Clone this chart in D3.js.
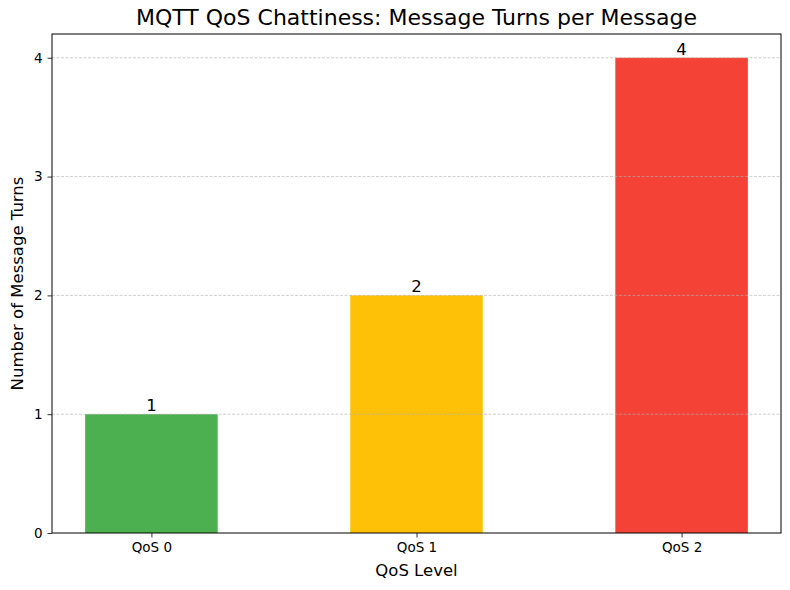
<!DOCTYPE html>
<html>
<head>
<meta charset="utf-8">
<script src="https://cdn.jsdelivr.net/npm/d3@7"></script>
<style>
  body { margin: 0; background: #fff; }
  text { font-family: "DejaVu Sans", sans-serif; }
</style>
</head>
<body>
<div id="chart"></div>
<script>
var categories = ["QoS 0", "QoS 1", "QoS 2"];
var turns = [1, 2, 4];
var barColors = ["#4CAF50", "#FFC107", "#F44336"];
var yTicks = [0, 1, 2, 3, 4];

var width = 790;
var height = 590;
var margin = { top: 34, right: 9, bottom: 57, left: 52 };
var innerW = width - margin.left - margin.right;
var innerH = height - margin.top - margin.bottom;

var svg = d3.select("#chart")
  .append("svg")
  .attr("width", width)
  .attr("height", height);

var g = svg.append("g")
  .attr("transform", "translate(" + margin.left + "," + margin.top + ")");

// matplotlib style: bar width 0.5, 5% margins
var x = d3.scaleLinear()
  .domain([-0.375, categories.length - 1 + 0.375])
  .range([0, innerW]);
var y = d3.scaleLinear()
  .domain([0, d3.max(turns) * 1.05])
  .range([innerH, 0]);
var barW = x(0.5) - x(0);

// bars
g.selectAll("rect.bar")
  .data(turns)
  .enter()
  .append("rect")
  .attr("class", "bar")
  .attr("x", (d, i) => x(i) - barW / 2)
  .attr("y", d => y(d))
  .attr("width", barW)
  .attr("height", d => innerH - y(d))
  .attr("fill", (d, i) => barColors[i]);

// y grid, drawn over bars like matplotlib default
g.selectAll("line.grid")
  .data(yTicks.slice(1))
  .enter()
  .append("line")
  .attr("x1", 0)
  .attr("x2", innerW)
  .attr("y1", d => y(d))
  .attr("y2", d => y(d))
  .attr("stroke", "#b0b0b0")
  .attr("stroke-width", 0.6)
  .attr("stroke-dasharray", "3,1.5");

// value labels
g.selectAll("text.val")
  .data(turns)
  .enter()
  .append("text")
  .attr("x", (d, i) => x(i))
  .attr("y", d => y(d) - 3)
  .attr("text-anchor", "middle")
  .style("font-size", "16.5px")
  .text(d => d);

// axes
var xAxis = d3.axisBottom(x)
  .tickValues(d3.range(categories.length))
  .tickFormat(i => categories[i])
  .tickSize(4.5)
  .tickPadding(5);
var yAxis = d3.axisLeft(y)
  .tickValues(yTicks)
  .tickFormat(d3.format("d"))
  .tickSize(4.5)
  .tickPadding(5);

var gx = g.append("g")
  .attr("transform", "translate(0," + innerH + ")")
  .call(xAxis);
var gy = g.append("g").call(yAxis);

[gx, gy].forEach(function (a) {
  a.select(".domain").remove();
  a.selectAll("text").style("font-size", "13.5px").attr("fill", "#000");
  a.selectAll("line").attr("stroke", "#000").attr("stroke-width", 0.8);
});

// frame
g.append("rect")
  .attr("width", innerW)
  .attr("height", innerH)
  .attr("fill", "none")
  .attr("stroke", "#000")
  .attr("stroke-width", 1);

// title and labels
svg.append("text")
  .attr("x", margin.left + innerW / 2)
  .attr("y", 25)
  .attr("text-anchor", "middle")
  .style("font-size", "22px")
  .text("MQTT QoS Chattiness: Message Turns per Message");

svg.append("text")
  .attr("x", margin.left + innerW / 2)
  .attr("y", 576)
  .attr("text-anchor", "middle")
  .style("font-size", "16.5px")
  .text("QoS Level");

svg.append("text")
  .attr("transform", "translate(23," + (margin.top + innerH / 2) + ") rotate(-90)")
  .attr("text-anchor", "middle")
  .style("font-size", "16.5px")
  .text("Number of Message Turns");
</script>
</body>
</html>
